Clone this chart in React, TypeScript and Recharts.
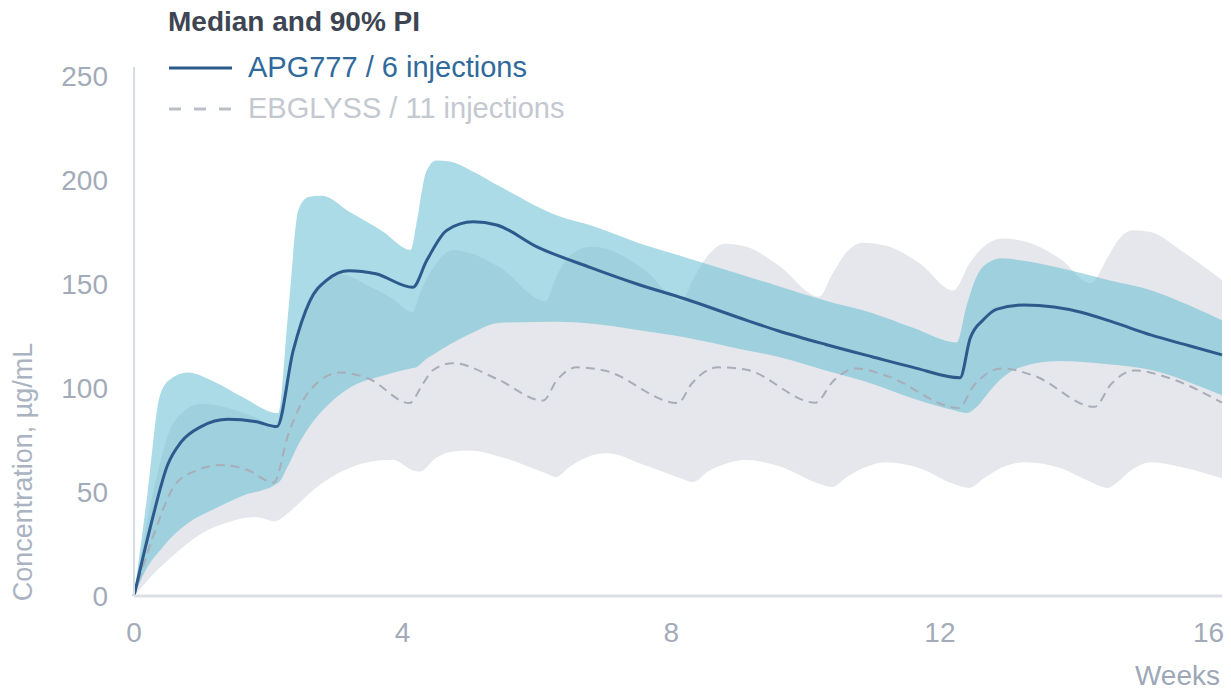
import { ComposedChart, Area, Line, XAxis, YAxis, Legend } from "recharts";

// APG777 median
const apgWeeks = [0, 0.25, 0.5, 0.7, 1.0, 1.4, 1.8, 2.13, 2.37, 2.62, 2.87, 3.2, 3.6, 4.15, 4.36, 4.66, 5.05, 5.4, 6.0, 6.8, 7.5, 8.2, 9.0, 9.6, 10.3, 11.0, 11.6, 12.3, 12.45, 12.65, 12.85, 13.25, 13.7, 14.1, 14.6, 15.15, 15.7, 16.2];
const apgMedian = [0, 34, 63, 74, 81.5, 85, 84, 81.5, 118, 142, 152, 156.5, 155, 148.5, 161.5, 176, 180, 178.5, 168, 158, 150, 143, 134, 127.5, 121, 115, 110, 105, 124, 133, 138, 140, 139, 136.5, 131.5, 125.5, 120.5, 116];

// APG777 90% PI
const apgBandWeeks = [0, 0.2, 0.39, 0.55, 0.8, 1.2, 1.6, 2.15, 2.3, 2.45, 2.6, 2.8, 3.2, 3.7, 4.12, 4.2, 4.35, 4.5, 4.7, 5.0, 5.45, 6.3, 6.83, 7.5, 8.2, 9.0, 9.6, 10.3, 11.0, 11.6, 12.25, 12.4, 12.55, 12.7, 12.93, 13.2, 13.76, 14.5, 15.15, 15.7, 16.2];
const apgLow = [0, 14, 22, 28, 35, 42, 48, 54.5, 63, 73, 81, 89, 100, 106, 109.5, 110, 114, 117, 121, 126, 131.5, 132, 131, 128, 124.5, 119, 115, 108.5, 102, 95, 89, 88, 91, 97, 105, 110, 113, 111.5, 108.7, 103, 96.6];
const apgHigh = [0, 49, 97, 104.5, 107.5, 103, 96, 88, 138, 186, 192, 192.5, 185, 175.5, 166.5, 178, 204, 209.5, 209, 205, 197, 183, 178, 170, 163, 155, 149, 142, 136, 129, 122, 140, 154, 160, 162.5, 161.5, 158, 152, 147, 140, 132.7];

// EBGLYSS median
const ebWeeks = [0, 0.3, 0.6, 0.9, 1.3, 1.7, 2.08, 2.3, 2.62, 3.07, 3.5, 4.1, 4.3, 4.45, 4.75, 5.4, 6.09, 6.3, 6.6, 7.0, 8.1, 8.3, 8.7, 9.1, 10.15, 10.4, 10.75, 11.2, 12.28, 12.5, 12.93, 13.4, 14.3, 14.55, 14.9, 15.4, 16.2];
const ebMedian = [0, 30, 53, 60, 63, 60.5, 54.5, 78, 99, 107.5, 104.5, 92.8, 102, 108.6, 112, 104.5, 94, 104, 110, 108.5, 92.8, 102, 110, 109, 93, 103, 109.5, 106, 90.5, 101, 109.5, 106, 91, 102, 108.5, 105, 93];

// EBGLYSS 90% PI
const ebBandWeeks = [0, 0.3, 0.6, 1.0, 1.4, 1.8, 2.1, 2.3, 2.5, 2.75, 3.1, 3.5, 3.85, 4.15, 4.25, 4.5, 4.75, 5.0, 5.45, 6.13, 6.28, 6.5, 6.8, 7.04, 7.6, 8.15, 8.32, 8.55, 8.8, 9.12, 9.6, 10.2, 10.4, 10.6, 10.85, 11.2, 11.7, 12.2, 12.44, 12.65, 12.93, 13.27, 13.8, 14.24, 14.5, 14.65, 14.87, 15.15, 15.6, 16.2];
const ebLow = [0, 11, 20, 30, 35.5, 38, 36, 40, 46, 53, 60, 64.5, 65.5, 60.5, 59.8, 66.5, 69.5, 70, 67, 59, 57.2, 62.5, 67.5, 68.7, 63, 56.5, 54.8, 60, 63.5, 65.4, 62.5, 54, 52.4, 57, 61.5, 64.4, 61.5, 54, 52, 56.5, 62, 64.4, 61.5, 55, 52, 55, 61, 64.4, 62, 56.7];
const ebHigh = [0, 52, 84, 92.5, 90.5, 86, 82, 110, 135, 150, 154.5, 149, 143, 136.5, 145, 160, 166.5, 165, 158, 142, 153, 164, 168, 167, 157, 142, 152, 164, 169.5, 168, 159, 144, 155, 165, 170, 168.5, 160, 147, 160, 168, 172, 170.5, 162, 150.5, 163, 171, 176, 175, 166, 152];

const weekTicks = [0, 4, 8, 12, 16];
const concTicks = [0, 50, 100, 150, 200, 250];

const legendItems = [
  { label: "APG777 / 6 injections", color: "#2c5a8c", text: "#2f6a9a", dash: undefined },
  { label: "EBGLYSS / 11 injections", color: "#b9bdc6", text: "#c4c8d0", dash: "12 13" },
];

const apgMedianData = apgWeeks.map((week, i) => ({ week, value: apgMedian[i] }));
const apgBandData = apgBandWeeks.map((week, i) => ({ week, range: [apgLow[i], apgHigh[i]] }));
const ebMedianData = ebWeeks.map((week, i) => ({ week, value: ebMedian[i] }));
const ebBandData = ebBandWeeks.map((week, i) => ({ week, range: [ebLow[i], ebHigh[i]] }));

function LegendBox() {
  return (
    <div style={{ fontFamily: '"Liberation Sans", Arial, sans-serif' }}>
      <div style={{ height: 44, lineHeight: "44px", fontSize: 28, fontWeight: 700, color: "#3d4552" }}>
        Median and 90% PI
      </div>
      {legendItems.map((item, i) => (
        <div
          key={item.label}
          style={{ display: "flex", alignItems: "center", height: 41, marginTop: i === 0 ? 3 : 0 }}
        >
          <svg width={66} height={6} style={{ marginRight: 14 }}>
            <line x1={1} y1={3} x2={64} y2={3} stroke={item.color} strokeWidth={3} strokeDasharray={item.dash} />
          </svg>
          <span style={{ fontSize: 29, color: item.text, whiteSpace: "nowrap" }}>{item.label}</span>
        </div>
      ))}
    </div>
  );
}

export default function App() {
  return (
    <div
      style={{
        position: "absolute",
        left: 0,
        top: 0,
        width: 1231,
        height: 691,
        background: "#ffffff",
        fontFamily: '"Liberation Sans", Arial, sans-serif',
      }}
    >
      <ComposedChart width={1231} height={691} margin={{ top: 67, right: 9, bottom: 0, left: 0 }}>
        <XAxis
          dataKey="week"
          type="number"
          domain={[0, 16.2]}
          ticks={weekTicks}
          height={95}
          tickLine={false}
          tickSize={0}
          tickMargin={26}
          tick={{ fill: "#a3abb9", fontSize: 28 }}
          axisLine={{ stroke: "#dcdfe4", strokeWidth: 3 }}
          label={{
            content: ({ viewBox }: any) => (
              <text
                x={viewBox.x + viewBox.width - 2}
                y={viewBox.y + 89}
                textAnchor="end"
                fontSize={28}
                fill="#9ea7b8"
              >
                Weeks
              </text>
            ),
          }}
        />
        <YAxis
          type="number"
          domain={[0, 254.5]}
          ticks={concTicks}
          width={134}
          tickLine={false}
          tickSize={0}
          tickMargin={26}
          tick={{ fill: "#a3abb9", fontSize: 28 }}
          axisLine={{ stroke: "#d7dbe2", strokeWidth: 2 }}
          label={{
            content: ({ viewBox }: any) => {
              const cx = viewBox.x + 23;
              const cy = viewBox.y + viewBox.height - 124;
              return (
                <text
                  x={cx}
                  y={cy}
                  transform={`rotate(-90, ${cx}, ${cy})`}
                  textAnchor="middle"
                  dominantBaseline="central"
                  fontSize={27}
                  fill="#aab3c2"
                >
                  Concentration, µg/mL
                </text>
              );
            },
          }}
        />
        <Legend
          layout="vertical"
          align="center"
          verticalAlign="middle"
          content={() => <LegendBox />}
          wrapperStyle={{ left: 168, top: 0, width: 520 }}
        />
        <Area
          data={ebBandData}
          dataKey="range"
          type="monotone"
          stroke="none"
          fill="#e5e7ec"
          fillOpacity={1}
          activeDot={false}
          isAnimationActive={false}
        />
        <Line
          data={ebMedianData}
          dataKey="value"
          type="monotone"
          stroke="#a9adb7"
          strokeWidth={2}
          strokeDasharray="9 6"
          dot={false}
          activeDot={false}
          isAnimationActive={false}
        />
        <Area
          data={apgBandData}
          dataKey="range"
          type="monotone"
          stroke="none"
          fill="#64bed2"
          fillOpacity={0.55}
          activeDot={false}
          isAnimationActive={false}
        />
        <Line
          data={apgMedianData}
          dataKey="value"
          type="monotone"
          stroke="#2c5a8c"
          strokeWidth={3}
          dot={false}
          activeDot={false}
          isAnimationActive={false}
        />
      </ComposedChart>
    </div>
  );
}
